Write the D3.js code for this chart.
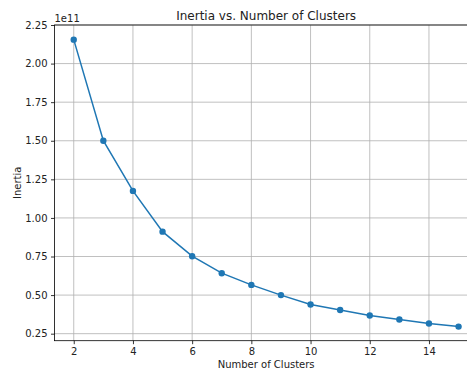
<!DOCTYPE html>
<html><head><meta charset="utf-8">
<script src="https://cdn.jsdelivr.net/npm/d3@7"></script>
<style>body{margin:0;background:#fff}svg{display:block}text{font-family:"DejaVu Sans",sans-serif;fill:#222}</style>
</head><body><svg id="c" width="467" height="373"></svg>
<script>
const clusters = [2,3,4,5,6,7,8,9,10,11,12,13,14,15];
const inertia = [2.155,1.50,1.175,0.911,0.752,0.642,0.566,0.50,0.439,0.403,0.368,0.342,0.316,0.296]; // ×1e11
const xTicks = [2,4,6,8,10,12,14];
const yTicks = [0.25,0.50,0.75,1.00,1.25,1.50,1.75,2.00,2.25];

const svg = d3.select("#c");
const L=54.5, R=477.8, T=25, B=340.7;
const x = d3.scaleLinear().domain([1.35,15.65]).range([L,R]);
const y = d3.scaleLinear().domain([0.2045,2.25]).range([B,T]);

const g = svg.append("g");
// grid
g.selectAll(".gx").data(xTicks).join("line").attr("x1",d=>x(d)).attr("x2",d=>x(d)).attr("y1",T).attr("y2",B).attr("stroke","#b0b0b0").attr("stroke-width",0.8);
g.selectAll(".gy").data(yTicks).join("line").attr("x1",L).attr("x2",R).attr("y1",d=>y(d)).attr("y2",d=>y(d)).attr("stroke","#b0b0b0").attr("stroke-width",0.8);

// line + markers
const pts = clusters.map((c,i)=>[c,inertia[i]]);
g.append("path").datum(pts).attr("fill","none").attr("stroke","#1f77b4").attr("stroke-width",1.5)
 .attr("d",d3.line().x(d=>x(d[0])).y(d=>y(d[1])));
g.selectAll("circle").data(pts).join("circle").attr("cx",d=>x(d[0])).attr("cy",d=>y(d[1])).attr("r",3.2).attr("fill","#1f77b4");

// axes
const xa = svg.append("g").attr("transform",`translate(0,${B})`).call(d3.axisBottom(x).tickValues(xTicks).tickSize(3.5).tickPadding(3.5).tickFormat(d3.format("d")));
const ya = svg.append("g").attr("transform",`translate(${L},0)`).call(d3.axisLeft(y).tickValues(yTicks).tickSize(3.5).tickPadding(3.5).tickFormat(d3.format(".2f")));
[xa,ya].forEach(a=>{a.select(".domain").remove();a.selectAll("line").attr("stroke","#000").attr("stroke-width",0.8);a.selectAll("text").attr("font-size",10).attr("font-family","DejaVu Sans").attr("fill","#222");});
// spines
svg.append("rect").attr("x",L).attr("y",T).attr("width",R-L).attr("height",B-T).attr("fill","none").attr("stroke","#000").attr("stroke-width",0.8);

svg.append("text").attr("x",(L+R)/2).attr("y",20).attr("text-anchor","middle").attr("font-size",12).text("Inertia vs. Number of Clusters");
svg.append("text").attr("x",L).attr("y",22).attr("font-size",10).text("1e11");
svg.append("text").attr("x",(L+R)/2).attr("y",368).attr("text-anchor","middle").attr("font-size",10).text("Number of Clusters");
svg.append("text").attr("transform",`translate(21,${(T+B)/2}) rotate(-90)`).attr("text-anchor","middle").attr("font-size",10).text("Inertia");
</script></body></html>
